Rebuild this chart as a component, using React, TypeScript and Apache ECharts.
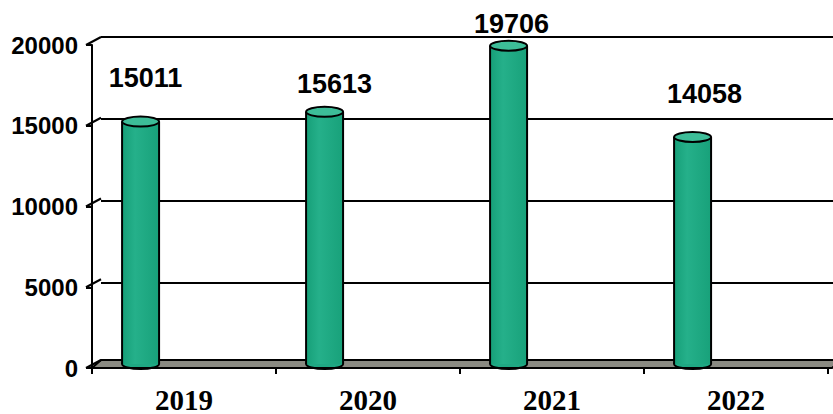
import React, { useEffect, useRef } from "react";
import * as echarts from "echarts";

const categories = ["2019", "2020", "2021", "2022"];
const values = [15011, 15613, 19706, 14058];
const yTicks = [0, 5000, 10000, 15000, 20000];

// label placement nudges in px (layout only)
const labelDx = [5, 10, 3, 12];
const labelDy = [-44, -28, -22, -43];

const DX = 9;
const DY = -8;
const GREEN = "#1fa883";
const GREEN_TOP = "#3dbd98";

export default function App() {
  const ref = useRef<HTMLDivElement>(null);
  useEffect(() => {
    const chart = echarts.init(ref.current!, null, { renderer: "svg" });
    const option: any = {
      animation: false,
      backgroundColor: "#ffffff",
      grid: [
        { left: 92, right: 5, top: 45, bottom: 42 },
        { left: 92 + DX, right: 5 - DX, top: 45 + DY, bottom: 42 - DY },
      ],
      xAxis: [
        {
          type: "category",
          gridIndex: 0,
          data: categories,
          z: 6,
          axisLine: { lineStyle: { color: "#000", width: 2 } },
          axisTick: { show: true, length: 6, lineStyle: { color: "#000", width: 2 } },
          axisLabel: {
            margin: 17,
            fontFamily: "'Liberation Serif', 'Times New Roman', serif",
            fontWeight: "bold",
            fontSize: 29,
            color: "#000",
          },
        },
        { type: "category", gridIndex: 1, data: categories, show: false },
      ],
      yAxis: [
        {
          type: "value",
          gridIndex: 0,
          min: 0,
          max: 20000,
          interval: 5000,
          z: 6,
          axisLine: { show: true, lineStyle: { color: "#000", width: 2 } },
          axisTick: { show: true, length: 6, lineStyle: { color: "#000", width: 2 } },
          splitLine: { show: false },
          axisLabel: {
            margin: 14,
            formatter: (v: number) => String(v),
            fontFamily: "'Liberation Sans', Arial, sans-serif",
            fontWeight: "bold",
            fontSize: 24,
            color: "#000",
          },
        },
        {
          type: "value",
          gridIndex: 1,
          min: 0,
          max: 20000,
          interval: 5000,
          axisLine: { show: false },
          axisTick: { show: false },
          axisLabel: { show: false },
          splitLine: { show: true, lineStyle: { color: "#000", width: 2 } },
        },
      ],
      series: [
        {
          type: "custom",
          name: "frame",
          xAxisIndex: 0,
          yAxisIndex: 0,
          clip: false,
          z: 3,
          silent: true,
          data: yTicks.map((v) => [0, v]),
          renderItem: (params: any, api: any) => {
            const cs = params.coordSys;
            const v = api.value(1);
            const y = api.coord([0, v])[1];
            const children: any[] = [];
            if (v === 0) {
              children.push({
                type: "polygon",
                shape: {
                  points: [
                    [cs.x, y],
                    [cs.x + cs.width + 4, y],
                    [cs.x + cs.width + 4 + DX, y + DY],
                    [cs.x + DX, y + DY],
                  ],
                },
                style: { fill: "#8a8a82", stroke: "#000", lineWidth: 2 },
              });
            }
            children.push({
              type: "line",
              shape: { x1: cs.x - 6, y1: y, x2: cs.x + DX, y2: y + DY },
              style: { stroke: "#000", lineWidth: 2, fill: "none" },
            });
            return { type: "group", children };
          },
        },
        {
          type: "custom",
          name: "bars",
          xAxisIndex: 0,
          yAxisIndex: 0,
          clip: false,
          z: 5,
          data: values.map((v, i) => [i, v]),
          renderItem: (params: any, api: any) => {
            const i = api.value(0);
            const v = api.value(1);
            const top = api.coord([i, v]);
            const base = api.coord([i, 0]);
            const band = api.size([1, 0])[0];
            const cx = top[0] - band * 0.236;
            const yt = top[1] - 4;
            const yb = base[1] - 4;
            const rx = 18.5;
            const ry = 5;
            const body = new echarts.graphic.LinearGradient(0, 0, 1, 0, [
              { offset: 0, color: "#169f78" },
              { offset: 0.35, color: "#25b08a" },
              { offset: 1, color: "#18a17a" },
            ]);
            return {
              type: "group",
              children: [
                {
                  type: "ellipse",
                  shape: { cx, cy: yb, rx, ry },
                  style: { fill: GREEN, stroke: "#000", lineWidth: 2 },
                },
                {
                  type: "rect",
                  shape: { x: cx - rx, y: yt, width: rx * 2, height: yb - yt },
                  style: { fill: body },
                },
                {
                  type: "line",
                  shape: { x1: cx - rx, y1: yt, x2: cx - rx, y2: yb },
                  style: { stroke: "#000", lineWidth: 2 },
                },
                {
                  type: "line",
                  shape: { x1: cx + rx, y1: yt, x2: cx + rx, y2: yb },
                  style: { stroke: "#000", lineWidth: 2 },
                },
                {
                  type: "ellipse",
                  shape: { cx, cy: yt, rx, ry },
                  style: { fill: GREEN_TOP, stroke: "#000", lineWidth: 2 },
                },
                {
                  type: "text",
                  x: cx + labelDx[i],
                  y: yt + labelDy[i],
                  style: {
                    text: String(values[i]),
                    fill: "#000",
                    font: "bold 27px 'Liberation Sans', Arial, sans-serif",
                    align: "center",
                    verticalAlign: "middle",
                  },
                },
              ],
            };
          },
        },
      ],
    };
    chart.setOption(option);
    return () => chart.dispose();
  }, []);
  return (
    <div
      ref={ref}
      style={{ position: "fixed", left: 0, top: 0, width: 833, height: 414 }}
    />
  );
}
